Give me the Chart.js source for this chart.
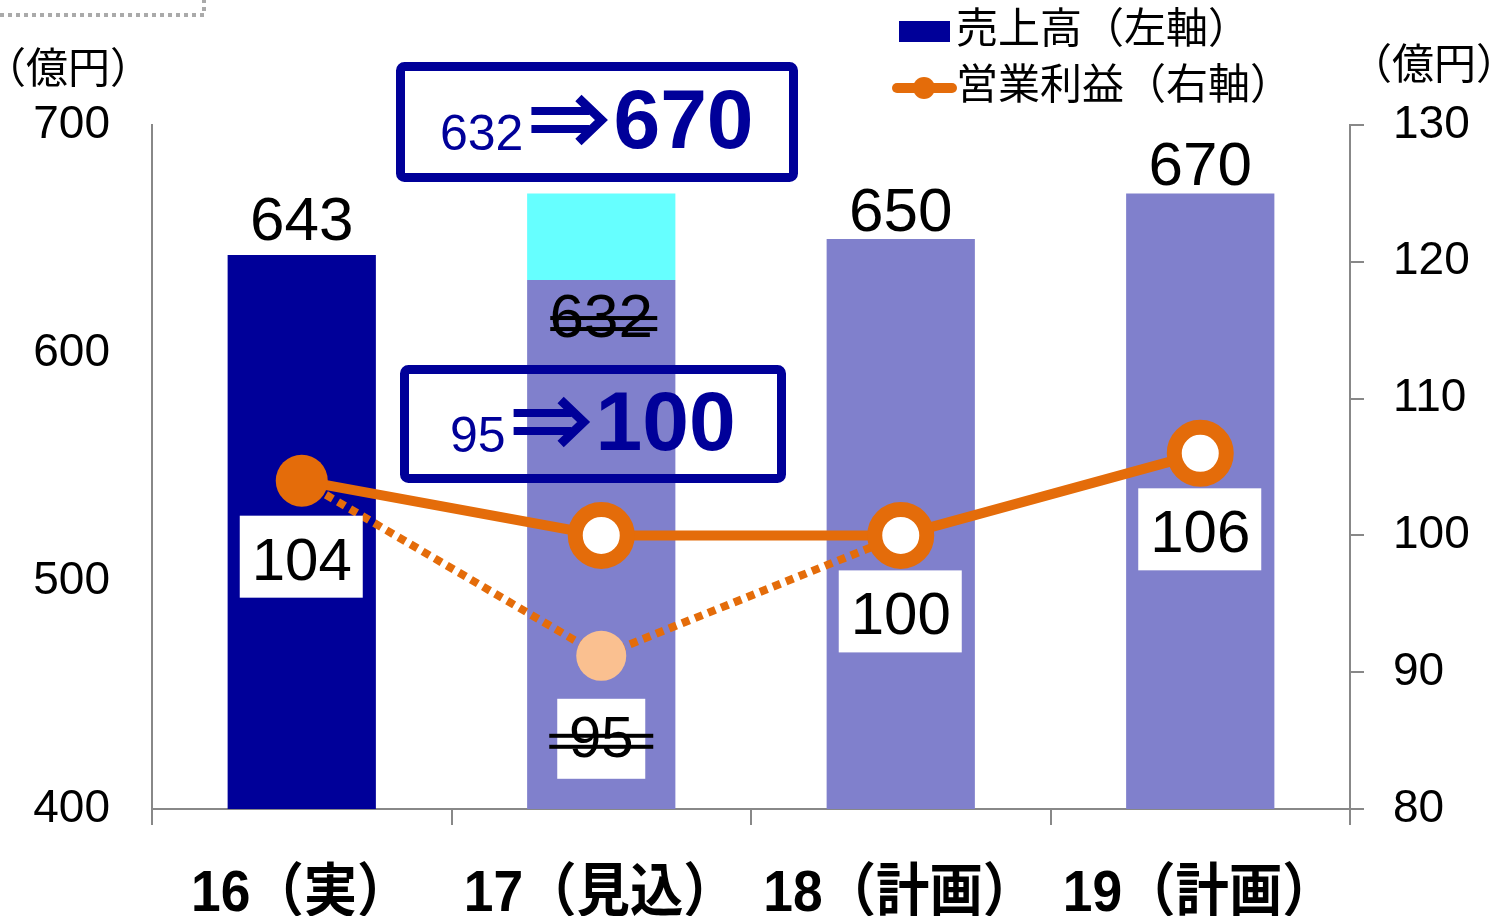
<!DOCTYPE html>
<html>
<head>
<meta charset="utf-8">
<script src="https://cdn.jsdelivr.net/npm/chart.js@4/dist/chart.umd.min.js"></script>
<style>
body { margin: 0; background: #fff; }
#wrap { width: 1499px; height: 916px; }
</style>
</head>
<body>
<div id="wrap"><canvas id="myChart" width="1499" height="916"></canvas></div>
<script>
const categories = ['16（実）', '17（見込）', '18（計画）', '19（計画）']
const sales = [643, 632, 650, 670]
const salesUp = [null, [632, 670], null, null]
const profit = [104, 100, 100, 106]
const profitOld = [104, 91.2, 100, null]
const profitOldLabel = [null, 95, null, null]
const leftTicks = [400, 500, 600, 700]
const rightTicks = [80, 90, 100, 110, 120, 130]
const legendNames = ['売上高（左軸）', '営業利益（右軸）']
const unitLabel = '（億円）'
const salesBox = ['632', '670']
const profitBox = ['95', '100']

const NAVY = '#000099'
const LAV = '#8080CC'
const CYAN = '#66FFFF'
const ORANGE = '#E46C0A'
const PEACH = '#FAC090'
const AXIS = '#888888'
const JP = '"Liberation Sans", "Noto Sans CJK JP", sans-serif'

function arrow(ctx, x0, c) {
    ctx.strokeStyle = NAVY
    ctx.lineWidth = 8
    ctx.lineCap = 'butt'
    ctx.beginPath()
    ctx.moveTo(x0, c - 9); ctx.lineTo(x0 + 58, c - 9)
    ctx.moveTo(x0, c + 9); ctx.lineTo(x0 + 58, c + 9)
    ctx.stroke()
    ctx.lineWidth = 9
    ctx.lineJoin = 'miter'
    ctx.beginPath()
    ctx.moveTo(x0 + 47, c - 22)
    ctx.lineTo(x0 + 70, c)
    ctx.lineTo(x0 + 47, c + 22)
    ctx.stroke()
}

function changeBox(ctx, x, y, w, h, from, to, base) {
    ctx.strokeStyle = NAVY
    ctx.lineWidth = 9
    ctx.beginPath()
    ctx.roundRect(x + 4.5, y + 4.5, w - 9, h - 9, 4)
    ctx.stroke()
    ctx.fillStyle = NAVY
    ctx.textAlign = 'left'
    ctx.textBaseline = 'alphabetic'
    ctx.font = '50px ' + JP
    let cx = x + (from.length == 2 ? 50 : 44)
    ctx.fillText(from, cx, base + 2)
    cx += ctx.measureText(from).width + 8
    arrow(ctx, cx, base - 28)
    cx += 82
    ctx.font = 'bold 84px ' + JP
    ctx.fillText(to, cx, base)
}

function strike(ctx, x1, x2, y1, y2) {
    ctx.fillStyle = '#000'
    ctx.fillRect(x1, y1 - 2, x2 - x1, 4)
    ctx.fillRect(x1, y2 - 2, x2 - x1, 4)
}

const drawExtras = {
    id: 'drawExtras',
    beforeDraw(chart) {
        const ctx = chart.ctx
        ctx.save()
        ctx.fillStyle = '#fff'
        ctx.fillRect(0, 0, chart.width, chart.height)
        ctx.restore()
    },
    afterDatasetsDraw(chart) {
        const ctx = chart.ctx
        ctx.save()

        // sales labels
        const bars = chart.getDatasetMeta(0).data
        ctx.fillStyle = '#000'
        ctx.font = '62px ' + JP
        ctx.textAlign = 'center'
        ctx.textBaseline = 'alphabetic'
        sales.forEach((v, i) => {
            if (i == 1) return
            ctx.fillText(v, bars[i].x, bars[i].y - (i == 0 ? 15 : 8))
        })
        // old 17 sales, struck
        ctx.fillText(sales[1], bars[1].x, bars[1].y + 57)
        strike(ctx, bars[1].x - 51, bars[1].x + 56, bars[1].y + 38, bars[1].y + 49)

        // profit labels in white boxes
        const pts = chart.getDatasetMeta(2).data
        profit.forEach((v, i) => {
            if (i == 1) return
            const p = pts[i]
            ctx.fillStyle = '#fff'
            ctx.fillRect(p.x - 62, p.y + 35, 123, 82)
            ctx.fillStyle = '#000'
            ctx.font = '60px ' + JP
            ctx.fillText(v, p.x, p.y + 99)
        })
        const old = chart.getDatasetMeta(3).data
        profitOldLabel.forEach((v, i) => {
            if (v == null) return
            const p = old[i]
            ctx.fillStyle = '#fff'
            ctx.fillRect(p.x - 44, p.y + 43, 88, 80)
            ctx.fillStyle = '#000'
            ctx.font = '58px ' + JP
            ctx.fillText(v, p.x, p.y + 101)
            strike(ctx, p.x - 52, p.x + 52, p.y + 80, p.y + 91)
        })

        // category labels (condensed bold)
        const xs = chart.scales.x
        ctx.fillStyle = '#000'
        ctx.font = 'bold 58px ' + JP
        ctx.textAlign = 'center'
        categories.forEach((c, i) => {
            ctx.save()
            ctx.translate(xs.getPixelForValue(i) - 1, 911)
            ctx.scale(0.92, 1)
            ctx.fillText(c, 0, 0)
            ctx.restore()
        })

        // revision boxes
        changeBox(ctx, 396, 62, 402, 120, salesBox[0], salesBox[1], 148)
        changeBox(ctx, 400, 365, 386, 118, profitBox[0], profitBox[1], 450)

        // legend
        ctx.fillStyle = NAVY
        ctx.fillRect(899, 21, 51, 21)
        ctx.strokeStyle = ORANGE
        ctx.lineWidth = 10
        ctx.lineCap = 'round'
        ctx.beginPath()
        ctx.moveTo(897, 88); ctx.lineTo(952, 88)
        ctx.stroke()
        ctx.fillStyle = ORANGE
        ctx.beginPath()
        ctx.arc(924, 88, 11, 0, Math.PI * 2)
        ctx.fill()
        ctx.fillStyle = '#000'
        ctx.font = '42px ' + JP
        ctx.textAlign = 'left'
        ctx.textBaseline = 'middle'
        ctx.fillText(legendNames[0], 956, 31)
        ctx.fillText(legendNames[1], 956, 87)

        // units
        ctx.font = '42px ' + JP
        ctx.fillText(unitLabel, -16, 71)
        ctx.fillText(unitLabel, 1350, 67)

        // dotted frame corner at top left
        ctx.strokeStyle = '#AAAAAA'
        ctx.lineWidth = 4
        ctx.lineCap = 'butt'
        ctx.setLineDash([4, 4])
        ctx.beginPath()
        ctx.moveTo(0, 15); ctx.lineTo(204, 15); ctx.lineTo(204, 0)
        ctx.stroke()
        ctx.restore()
    }
}

const show = document.getElementById('myChart').getContext('2d')
const myChart = new Chart(show, {
    type: 'bar',
    data: {
        labels: categories,
        datasets: [{
            label: legendNames[0],
            data: sales,
            backgroundColor: [NAVY, LAV, LAV, LAV],
            yAxisID: 'y',
            grouped: false,
            order: 3
        }, {
            label: 'revised',
            data: salesUp,
            backgroundColor: CYAN,
            yAxisID: 'y',
            grouped: false,
            order: 3
        }, {
            type: 'line',
            label: legendNames[1],
            data: profit,
            yAxisID: 'y1',
            borderColor: ORANGE,
            borderWidth: 10,
            pointRadius: 26,
            pointBackgroundColor: [ORANGE, '#fff', '#fff', '#fff'],
            pointBorderColor: ORANGE,
            pointBorderWidth: [0, 15, 15, 15],
            order: 1
        }, {
            type: 'line',
            label: 'old',
            data: profitOld,
            yAxisID: 'y1',
            borderColor: ORANGE,
            borderWidth: 8,
            borderDash: [8, 6],
            pointRadius: [0, 25, 0, 0],
            pointBackgroundColor: PEACH,
            pointBorderWidth: 0,
            order: 2
        }]
    },
    options: {
        responsive: false,
        animation: false,
        devicePixelRatio: 1,
        layout: { padding: { top: 125, left: 0, right: 0, bottom: 0 } },
        categoryPercentage: 1,
        barPercentage: 0.495,
        plugins: {
            legend: { display: false },
            tooltip: { enabled: false }
        },
        scales: {
            x: {
                offset: true,
                grid: { offset: true, drawOnChartArea: false, tickLength: 16, color: AXIS, lineWidth: 2 },
                border: { color: AXIS, width: 2 },
                ticks: { display: false },
                afterFit: s => { s.height = 107 }
            },
            y: {
                position: 'left',
                min: leftTicks[0],
                max: leftTicks[leftTicks.length - 1],
                ticks: { stepSize: 100, color: '#000', padding: 42, font: { family: JP, size: 46 } },
                grid: { drawOnChartArea: false, drawTicks: false, color: AXIS },
                border: { color: AXIS, width: 2 },
                afterFit: s => { s.width = 152 }
            },
            y1: {
                position: 'right',
                min: rightTicks[0],
                max: rightTicks[rightTicks.length - 1],
                ticks: { stepSize: 10, color: '#000', padding: 29, font: { family: JP, size: 46 } },
                grid: { drawOnChartArea: false, tickLength: 14, color: AXIS, lineWidth: 2 },
                border: { color: AXIS, width: 2 },
                afterFit: s => { s.width = 149 }
            }
        }
    },
    plugins: [drawExtras]
})
</script>
</body>
</html>
